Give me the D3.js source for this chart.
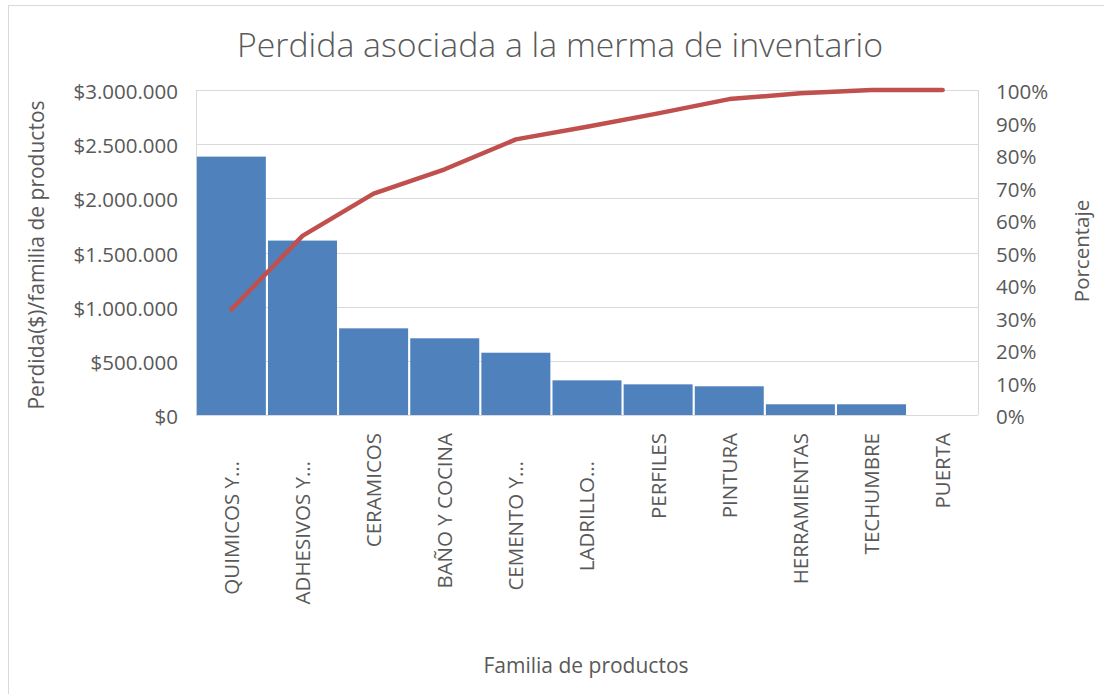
<!DOCTYPE html>
<html>
<head>
<meta charset="utf-8">
<script src="https://cdn.jsdelivr.net/npm/d3@7"></script>
<style>
  html, body { margin: 0; padding: 0; background: #fff; }
  svg { display: block; font-family: "Open Sans", "Noto Sans", sans-serif; }
</style>
</head>
<body>
<svg id="chart" width="1104" height="694"></svg>
<script>
// Pareto de pérdidas por familia de productos
const categories = ["QUIMICOS Y…", "ADHESIVOS Y…", "CERAMICOS", "BAÑO Y COCINA", "CEMENTO Y…",
                    "LADRILLO…", "PERFILES", "PINTURA", "HERRAMIENTAS", "TECHUMBRE", "PUERTA"];
const perdida = [2385000, 1610000, 800000, 708000, 575000, 320000, 283000, 265000, 99000, 99000, 0];
const acumulado = [0.325, 0.551, 0.681, 0.756, 0.848, 0.887, 0.928, 0.972, 0.990, 1.0, 1.0];
const montoTicks = [0, 500000, 1000000, 1500000, 2000000, 2500000, 3000000];
const porcentajeTicks = [0, 0.1, 0.2, 0.3, 0.4, 0.5, 0.6, 0.7, 0.8, 0.9, 1.0];

const textColor = "#595959";
const gridColor = "#D9D9D9";
const barColor = "#4F81BD";
const lineColor = "#C0504D";

const plot = { left: 196, right: 978, top: 90, bottom: 415 };

const svg = d3.select("#chart");

// chart frame
svg.append("rect")
  .attr("x", 8.5).attr("y", 5.5)
  .attr("width", 1200).attr("height", 800)
  .attr("fill", "none").attr("stroke", gridColor).attr("stroke-width", 1);

const x = d3.scaleBand()
  .domain(categories)
  .range([plot.left, plot.right])
  .paddingInner(0.03)
  .paddingOuter(0.012);

const y = d3.scaleLinear().domain([0, 3000000]).range([plot.bottom, plot.top]);
const y2 = d3.scaleLinear().domain([0, 1]).range([plot.bottom, plot.top]);

const es = d3.formatLocale({ decimal: ",", thousands: ".", grouping: [3], currency: ["$", ""] });
const fmtMonto = es.format("$,.0f");
const fmtPct = d3.format(".0%");

// horizontal gridlines
svg.append("g")
  .attr("transform", `translate(${plot.left},0)`)
  .call(d3.axisLeft(y).tickValues(montoTicks).tickSize(-(plot.right - plot.left)).tickFormat(""))
  .call(g => g.select(".domain").remove())
  .call(g => g.selectAll("line").attr("stroke", gridColor).attr("stroke-width", 1)
              .attr("shape-rendering", "crispEdges"));

// vertical edge lines
[plot.left, plot.right].forEach(px => {
  svg.append("line")
    .attr("x1", px).attr("x2", px)
    .attr("y1", plot.top).attr("y2", plot.bottom)
    .attr("stroke", gridColor).attr("stroke-width", 1)
    .attr("shape-rendering", "crispEdges");
});

// bars
svg.append("g")
  .selectAll("rect")
  .data(perdida)
  .join("rect")
  .attr("x", (d, i) => x(categories[i]))
  .attr("width", x.bandwidth())
  .attr("y", d => y(d))
  .attr("height", d => y(0) - y(d))
  .attr("fill", barColor);

// cumulative line
const line = d3.line()
  .x((d, i) => x(categories[i]) + x.bandwidth() / 2)
  .y(d => y2(d));

svg.append("path")
  .datum(acumulado)
  .attr("d", line)
  .attr("fill", "none")
  .attr("stroke", lineColor)
  .attr("stroke-width", 4.5)
  .attr("stroke-linejoin", "round")
  .attr("stroke-linecap", "round");

// left axis labels
const leftAxis = svg.append("g")
  .attr("transform", `translate(${plot.left},0)`)
  .call(d3.axisLeft(y).tickValues(montoTicks).tickSize(0).tickPadding(18).tickFormat(fmtMonto));
leftAxis.select(".domain").remove();
leftAxis.selectAll("text")
  .attr("fill", textColor).attr("font-size", 20.5)
  .attr("font-family", '"Open Sans", sans-serif')
  .attr("dy", "0.42em");

// right axis labels
const rightAxis = svg.append("g")
  .attr("transform", `translate(${plot.right},0)`)
  .call(d3.axisRight(y2).tickValues(porcentajeTicks).tickSize(0).tickPadding(18).tickFormat(fmtPct));
rightAxis.select(".domain").remove();
rightAxis.selectAll("text")
  .attr("fill", textColor).attr("font-size", 20.5)
  .attr("font-family", '"Open Sans", sans-serif')
  .attr("dy", "0.42em");

// category labels, rotated
svg.append("g")
  .selectAll("text")
  .data(categories)
  .join("text")
  .attr("transform", d => {
    const cx = x(d) + x.bandwidth() / 2;
    const top = d.endsWith("…") ? 461 : 433;
    return `translate(${cx},${top}) rotate(-90)`;
  })
  .attr("text-anchor", "end")
  .attr("dy", "0.36em")
  .attr("fill", textColor)
  .attr("font-size", 20.5)
  .text(d => d);

// titles
svg.append("text")
  .attr("x", 560).attr("y", 57)
  .attr("text-anchor", "middle")
  .attr("fill", textColor)
  .attr("font-size", 33.8)
  .attr("font-weight", 300)
  .text("Perdida asociada a la merma de inventario");

svg.append("text")
  .attr("transform", "translate(44,255) rotate(-90)")
  .attr("text-anchor", "middle")
  .attr("fill", textColor)
  .attr("font-size", 21)
  .text("Perdida($)/familia de productos");

svg.append("text")
  .attr("transform", "translate(1089,251) rotate(-90)")
  .attr("text-anchor", "middle")
  .attr("fill", textColor)
  .attr("font-size", 20.5)
  .text("Porcentaje");

svg.append("text")
  .attr("x", 586).attr("y", 673)
  .attr("text-anchor", "middle")
  .attr("fill", textColor)
  .attr("font-size", 21)
  .text("Familia de productos");
</script>
</body>
</html>
